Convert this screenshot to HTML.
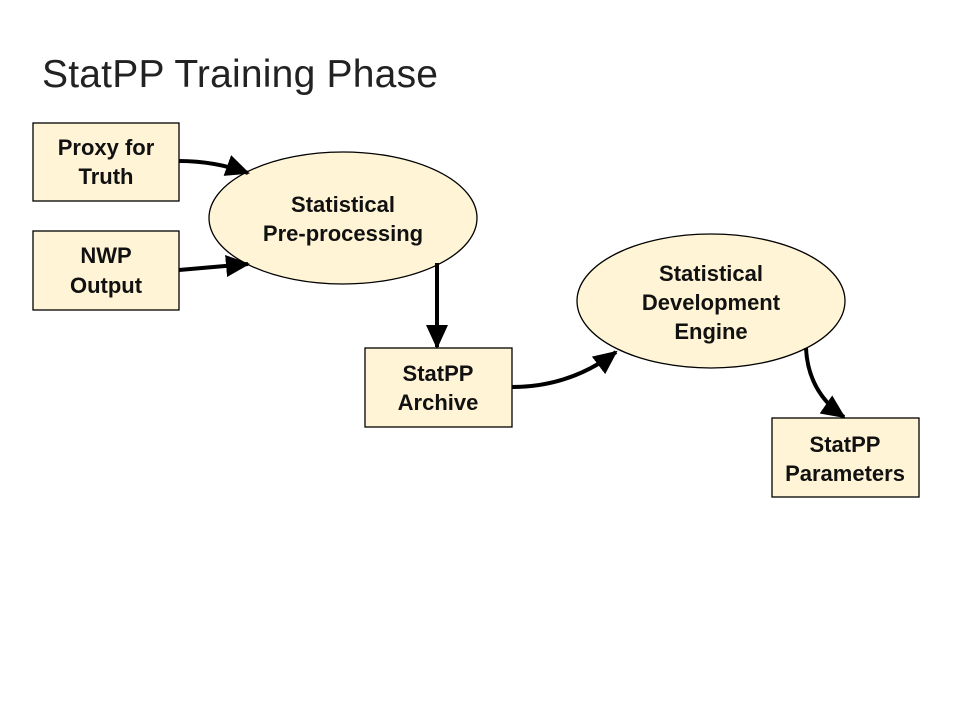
<!DOCTYPE html>
<html><head><style>
body{margin:0;width:960px;height:720px;background:#fff;overflow:hidden}
</style></head><body>
<svg width="960" height="720" xmlns="http://www.w3.org/2000/svg" font-family="Liberation Sans, sans-serif">
<defs>
<marker id="b" markerWidth="26" markerHeight="26" refX="22" refY="13" orient="auto" markerUnits="userSpaceOnUse" viewBox="0 0 26 26"><path d="M0,2 L24,13 L0,24 z" fill="#000"/></marker></defs>
<text x="42" y="87" font-size="39" fill="#222" textLength="396">StatPP Training Phase</text>
<g fill="#fff5d6" stroke="#000" stroke-width="1.3">
<rect x="33" y="123" width="146" height="78"/>
<rect x="33" y="231" width="146" height="79"/>
<ellipse cx="343" cy="218" rx="134" ry="66"/>
<rect x="365" y="348" width="147" height="79"/>
<ellipse cx="711" cy="301" rx="134" ry="67"/>
<rect x="772" y="418" width="147" height="79"/>
</g>
<g fill="none" stroke="#000" stroke-width="4">
<path d="M179,161 Q215,161 248,173" marker-end="url(#b)"/>
<path d="M179,270 Q215,267 248,264" marker-end="url(#b)"/>
<path d="M437,263 L437,347" marker-end="url(#b)"/>
<path d="M512,387 Q570,387 616,352" marker-end="url(#b)"/>
<path d="M806,348 Q808,392 844,417" marker-end="url(#b)"/>
</g>
<g font-size="22" font-weight="bold" text-anchor="middle" fill="#111">
<text x="106" y="155">Proxy for</text><text x="106" y="184">Truth</text>
<text x="106" y="263">NWP</text><text x="106" y="293">Output</text>
<text x="343" y="212">Statistical</text><text x="343" y="241">Pre-processing</text>
<text x="438" y="381">StatPP</text><text x="438" y="410">Archive</text>
<text x="711" y="281">Statistical</text><text x="711" y="310">Development</text><text x="711" y="339">Engine</text>
<text x="845" y="452">StatPP</text><text x="845" y="481">Parameters</text>
</g>
</svg>
</body></html>
